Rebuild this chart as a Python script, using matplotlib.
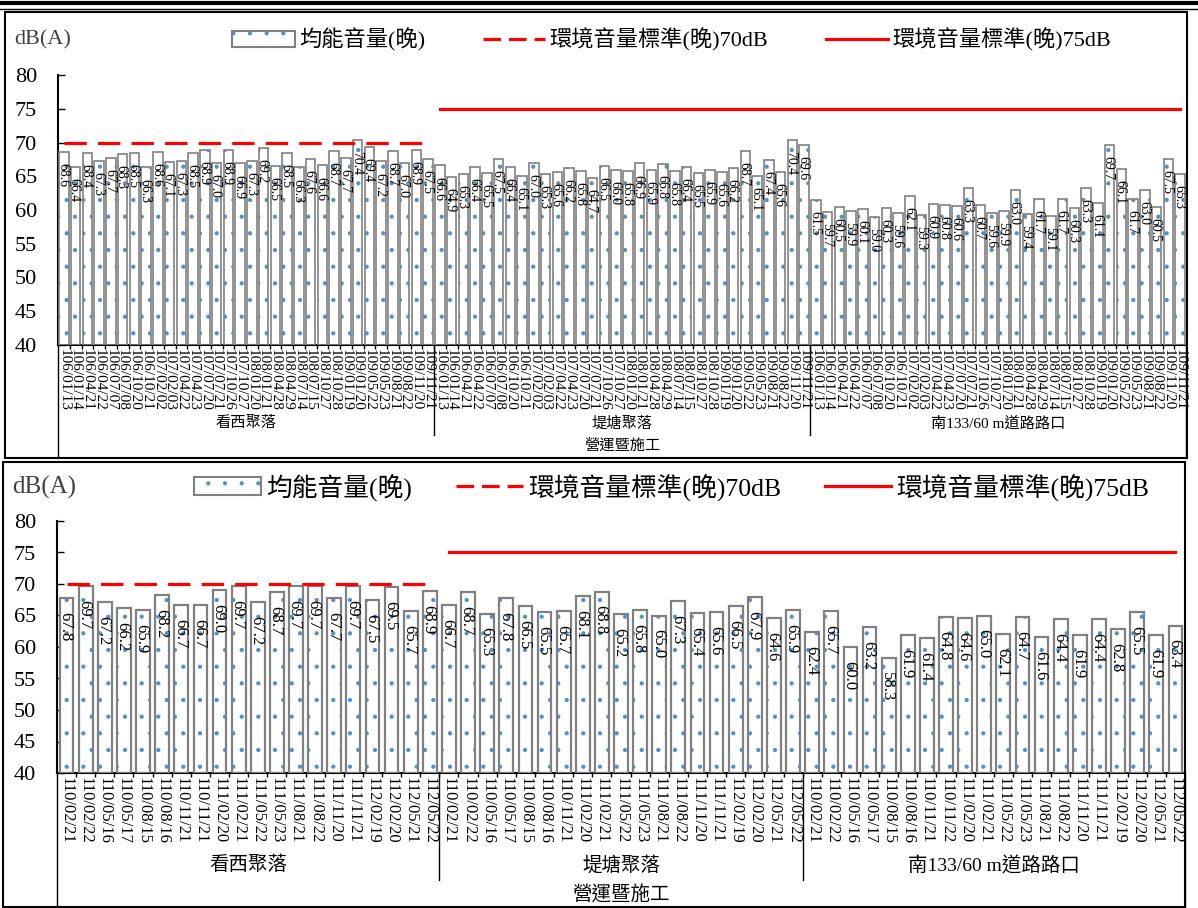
import matplotlib
matplotlib.use('Agg')
import matplotlib.pyplot as plt
from matplotlib.patches import Patch, Rectangle
from matplotlib.lines import Line2D
from matplotlib.legend_handler import HandlerTuple
import matplotlib.transforms as mtransforms

plt.rcParams['font.family'] = ['Liberation Serif', 'Noto Sans CJK TC']
plt.rcParams['hatch.linewidth'] = 0.6

# ---- data: upper chart (106-109) ----
top_groups = ['看西聚落', '堤塘聚落', '南133/60 m道路路口']
top_dates = ['106/01/13', '106/01/14', '106/04/21', '106/04/22', '106/07/07', '106/07/08', '106/10/20', '106/10/21',
             '107/02/02', '107/02/03', '107/04/22', '107/04/23', '107/07/20', '107/07/21', '107/10/26', '107/10/27',
             '108/01/20', '108/01/21', '108/04/28', '108/04/29', '108/07/14', '108/07/15', '108/10/27', '108/10/28',
             '109/01/19', '109/01/20', '109/05/22', '109/05/23', '109/08/21', '109/08/22', '109/11/20', '109/11/21']
top_kanxi = [68.6, 66.4, 68.4, 67.3, 67.7, 68.3, 68.5, 66.3, 68.6, 67.1, 67.3, 68.5, 68.9, 67.0, 68.9, 66.9,
             67.3, 69.2, 66.5, 68.5, 66.3, 67.6, 66.6, 68.7, 67.7, 70.4, 69.4, 67.2, 68.7, 67.0, 68.9, 67.5]
top_ditang = [66.6, 64.9, 65.3, 66.4, 65.5, 67.5, 66.4, 65.1, 67.0, 65.3, 65.6, 66.2, 65.8, 64.7, 66.5, 66.0,
              65.8, 66.9, 65.9, 66.8, 65.8, 66.4, 65.5, 65.9, 65.6, 66.2, 68.7, 65.1, 67.4, 65.6, 70.4, 69.6]
top_road = [61.5, 59.7, 60.5, 59.9, 60.1, 59.0, 60.3, 59.6, 62.1, 59.3, 60.9, 60.8, 60.6, 63.3, 60.7, 59.6,
            59.9, 63.0, 59.4, 61.7, 59.1, 61.7, 60.3, 63.3, 61.1, 69.7, 66.1, 61.7, 63.0, 60.5, 67.5, 65.3]

# ---- data: lower chart (110-112) ----
bot_groups = ['看西聚落', '堤塘聚落', '南133/60 m道路路口']
bot_dates_kanxi = ['110/02/21', '110/02/22', '110/05/16', '110/05/17', '110/08/15', '110/08/16', '110/11/21',
                   '110/11/21', '111/02/20', '111/02/21', '111/05/22', '111/05/23', '111/08/21', '111/08/22',
                   '111/11/20', '111/11/21', '112/02/19', '112/02/20', '112/05/21', '112/05/22']
bot_dates_ditang = ['110/02/21', '110/02/22', '110/05/16', '110/05/17', '110/08/15', '110/08/16', '110/11/21',
                    '111/02/20', '111/02/21', '111/05/22', '111/05/23', '111/08/21', '111/08/22',
                    '111/11/20', '111/11/21', '112/02/19', '112/02/20', '112/05/21', '112/05/22']
bot_dates_road = ['110/02/21', '110/02/22', '110/05/16', '110/05/17', '110/08/15', '110/08/16', '110/11/21',
                  '110/11/22', '111/02/20', '111/02/21', '111/05/22', '111/05/23', '111/08/21', '111/08/22',
                  '111/11/20', '111/11/21', '112/02/19', '112/02/20', '112/05/21', '112/05/22']
bot_kanxi = [67.8, 69.7, 67.2, 66.2, 65.9, 68.2, 66.7, 66.7, 69.0, 69.7, 67.2, 68.7, 69.7, 69.7, 67.7, 69.7,
             67.5, 69.5, 65.7, 68.9]
bot_ditang = [66.7, 68.7, 65.3, 67.8, 66.5, 65.5, 65.7, 68.1, 68.8, 65.2, 65.8, 65.0, 67.3, 65.4, 65.6, 66.5,
              67.9, 64.6, 65.9]
bot_road = [62.4, 65.7, 60.0, 63.2, 58.3, 61.9, 61.4, 64.8, 64.6, 65.0, 62.1, 64.7, 61.6, 64.4, 61.9, 64.4,
            62.8, 65.5, 61.9, 63.4]

outer_label = '營運暨施工'
legend_labels = ['均能音量(晚)', '環境音量標準(晚)70dB', '環境音量標準(晚)75dB']

W, H = 1198, 908
DOT_BLUE = '#4a90d0'


def fx(x):
    return x / W


def fy(y):
    return 1 - y / H


def draw_panel(ax, groups, dates_list, values_list, sizes):
    val_fs, date_fs, tick_fs, grp_fs, lbl_off, bar_lw, bar_w, grp_y, out_y, sep_y, edge_y = sizes
    dates = [d for ds in dates_list for d in ds]
    values = [v for vs in values_list for v in vs]
    x = list(range(len(values)))
    # dotted fill + grey outline
    ax.bar(x, [v - 40 for v in values], bottom=40, width=bar_w, color='white', edgecolor=DOT_BLUE,
           hatch='.', linewidth=0, zorder=2)
    ax.bar(x, [v - 40 for v in values], bottom=40, width=bar_w, fill=False, edgecolor='#808080',
           linewidth=bar_lw, zorder=3)
    for xi, v in zip(x, values):
        ax.annotate(f'{v:.1f}', (xi, v), xytext=(-1, lbl_off), textcoords='offset points', rotation=270,
                    ha='center', va='top', fontsize=val_fs, zorder=4)
    # standards as lines across categories
    n1 = len(values_list[0])
    ax.plot(x[:n1], [70] * n1, color='#ff0000', lw=2.3, linestyle=(0, (7, 3.5)), zorder=5)
    ax.plot(x[n1:], [75] * (len(x) - n1), color='#ff0000', lw=2.3, zorder=5)

    ax.set_xlim(-0.5, len(x) - 0.5)
    ax.set_ylim(40, 80)
    ax.set_yticks(range(40, 81, 5))
    ax.tick_params(axis='y', direction='in', length=5, width=1, labelsize=tick_fs, pad=15)
    ax.set_xticks(x)
    ax.set_xticklabels(dates, rotation=270, fontsize=date_fs)
    ax.tick_params(axis='x', length=0, pad=3)
    ax.set_xticks([i + 0.5 for i in x[:-1]], minor=True)
    ax.tick_params(axis='x', which='minor', length=3, width=1, direction='out')
    for s in ['top', 'right']:
        ax.spines[s].set_visible(False)
    ax.spines['left'].set_linewidth(1.5)
    ax.spines['bottom'].set_linewidth(1.5)

    # multi-level category axis
    trans = mtransforms.blended_transform_factory(ax.transData, ax.transAxes)
    start = 0
    bounds = [-0.5]
    for g, vs in zip(groups, values_list):
        ax.text(start + (len(vs) - 1) / 2, grp_y, g, transform=trans, ha='center', va='center',
                fontsize=grp_fs, clip_on=False)
        start += len(vs)
        bounds.append(start - 0.5)
    for b in bounds[1:-1]:
        ax.add_line(Line2D([b, b], [0, sep_y], transform=trans, color='black', lw=1, clip_on=False))
    for b in [bounds[0], bounds[-1]]:
        ax.add_line(Line2D([b, b], [0, edge_y], transform=trans, color='black', lw=1, clip_on=False))
    ax.text((len(x) - 1) / 2, out_y, outer_label, transform=trans, ha='center', va='center',
            fontsize=grp_fs, clip_on=False)


fig = plt.figure(figsize=(W / 100, H / 100), dpi=100)

ax1 = fig.add_axes([fx(58), fy(345), fx(1186) - fx(58), fy(75) - fy(345)])
draw_panel(ax1, top_groups, [top_dates, top_dates, top_dates], [top_kanxi, top_ditang, top_road],
           (10, 11, 16, 11, -8, 1.2, 0.8, -0.289, -0.374, -0.333, -0.419))

ax2 = fig.add_axes([fx(57), fy(773), fx(1185) - fx(57), fy(521) - fy(773)])
draw_panel(ax2, bot_groups, [bot_dates_kanxi, bot_dates_ditang, bot_dates_road], [bot_kanxi, bot_ditang, bot_road],
           (12, 12, 16, 14, -10, 1.6, 0.72, -0.365, -0.484, -0.425, -0.54))

# legends
bar_handle = (Patch(facecolor='white', edgecolor=DOT_BLUE, hatch='.', linewidth=0),
              Patch(facecolor='none', edgecolor='#808080', linewidth=1.5))
line70 = Line2D([], [], color='#ff0000', lw=2.3, linestyle=(0, (5.5, 2.5)))
line75 = Line2D([], [], color='#ff0000', lw=2.3)
handles = [bar_handle, line70, line75]
fig.legend(handles, legend_labels, loc='center', bbox_to_anchor=(fx(672), fy(40)), ncol=3, frameon=False,
           fontsize=16, handlelength=2.8, handletextpad=0.2, columnspacing=2.6,
           handler_map={tuple: HandlerTuple(ndivide=1, pad=0)})
fig.legend(handles, legend_labels, loc='center', bbox_to_anchor=(fx(672), fy(487)), ncol=3, frameon=False,
           fontsize=18.5, handlelength=2.6, handletextpad=0.2, columnspacing=1.7,
           handler_map={tuple: HandlerTuple(ndivide=1, pad=0)})
fig.text(fx(14), fy(40), 'dB(A)', fontsize=16, va='center', ha='left', color='#404040')
fig.text(fx(12), fy(487), 'dB(A)', fontsize=18, va='center', ha='left', color='#404040')

# panel frames
fig.add_artist(Rectangle((fx(5), fy(458)), fx(1187) - fx(5), fy(12) - fy(458), transform=fig.transFigure,
                         fill=False, edgecolor='black', lw=1.5))
fig.add_artist(Rectangle((fx(3), fy(907)), fx(1185) - fx(3), fy(462) - fy(907), transform=fig.transFigure,
                         fill=False, edgecolor='black', lw=1.5))
fig.add_artist(Line2D([0, 1], [fy(3), fy(3)], transform=fig.transFigure, color='black', lw=3))
fig.add_artist(Line2D([0, 1], [fy(9), fy(9)], transform=fig.transFigure, color='black', lw=1))

fig.savefig('out.png', dpi=100)
